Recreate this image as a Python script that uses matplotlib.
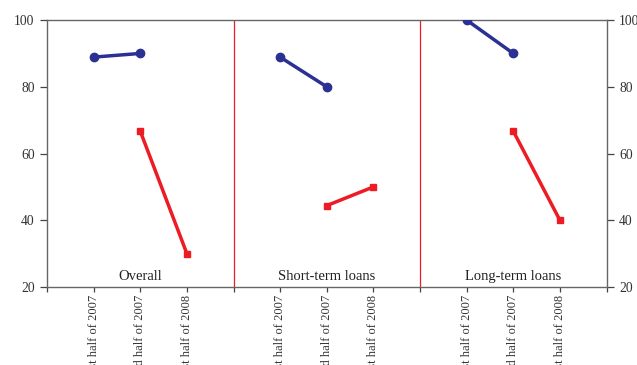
import matplotlib
matplotlib.use("Agg")
import matplotlib.pyplot as plt

panels = ["Overall", "Short-term loans", "Long-term loans"]
categories = ["1st half of 2007", "2nd half of 2007", "1st half of 2008"]
blue_values = [[88.9, 90.0], [88.9, 80.0], [100.0, 90.0]]
red_values = [[66.7, 30.0], [44.4, 50.0], [66.7, 40.0]]

plt.rcParams['font.family'] = ['Liberation Serif', 'DejaVu Serif']

fig = plt.figure(figsize=(6.37, 3.65), dpi=100)
ax = fig.add_axes([0.0738, 0.2137, 0.8784, 0.7313])

BLUE = "#2b3192"
RED = "#ed1c24"
panel_w = 4
ticks = []
labels = []
for i, name in enumerate(panels):
    base = i * panel_w
    xs = [base + 1 + k for k in range(len(categories))]
    ax.plot(xs[:2], blue_values[i], color=BLUE, lw=2.5, marker='o', ms=6, zorder=3)
    ax.plot(xs[1:3], red_values[i], color=RED, lw=2.5, marker='s', ms=4.5, zorder=3)
    ax.text(base + panel_w / 2, 23, name, ha='center', va='center', fontsize=10.5, color='#222222')
    ticks += [base] + xs
    labels += [""] + categories
    if i > 0:
        ax.axvline(base, color=RED, lw=0.9, zorder=1)
ticks.append(panel_w * len(panels))
labels.append("")

ax.set_xlim(0, panel_w * len(panels))
ax.set_ylim(20, 100)
ax.set_xticks(ticks)
ax.set_xticklabels(labels, rotation=90, fontsize=9, color='#333333')
ax.set_yticks([20, 40, 60, 80, 100])
ax.tick_params(axis='y', which='both', left=True, right=True, labelleft=True, labelright=True,
               length=5, width=0.9, color='#444444', labelsize=9.8, labelcolor='#333333', pad=4)
ax.tick_params(axis='x', length=3.5, width=0.9, color='#444444', pad=2)
for s in ax.spines.values():
    s.set_color('#666666')
    s.set_linewidth(1.0)

fig.savefig("out.png", dpi=100)
